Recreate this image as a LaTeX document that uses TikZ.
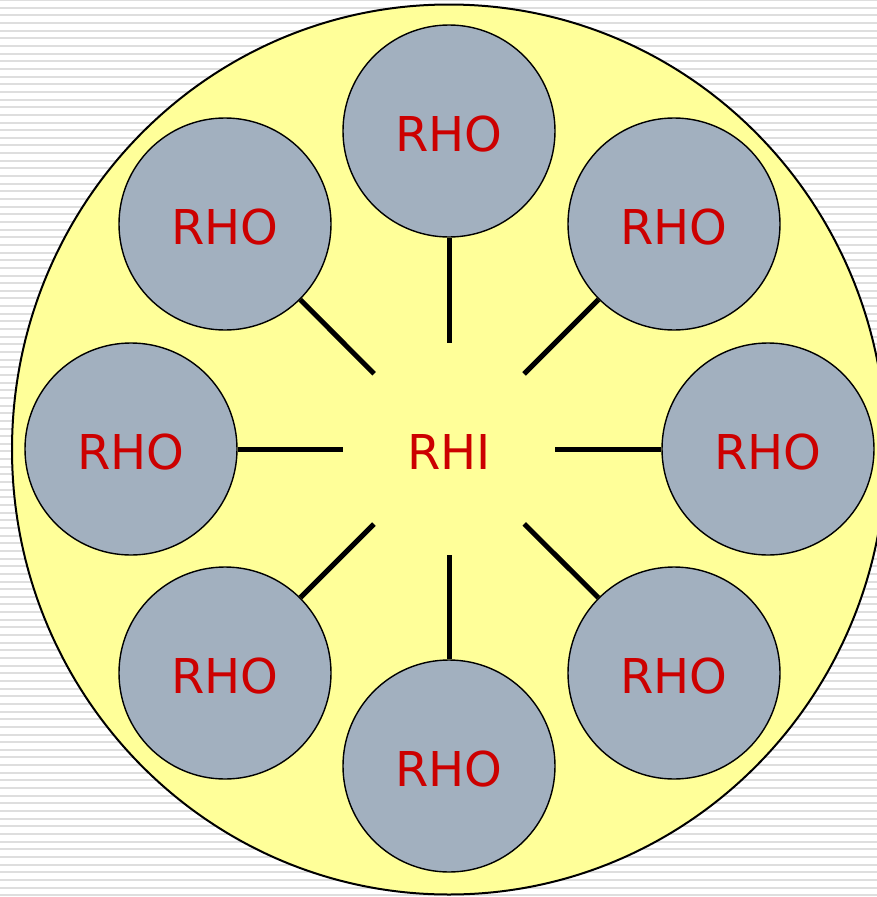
\documentclass[tikz,border=0pt]{standalone}
\usepackage{fontspec}
\setmainfont{DejaVu Sans}
\definecolor{discyellow}{RGB}{255,255,153}
\definecolor{ballgray}{RGB}{162,176,191}
\definecolor{labelred}{RGB}{204,0,0}
\definecolor{stripegray}{RGB}{222,222,222}
\tikzset{
  labeltext/.style={text=labelred, font=\fontsize{48}{48}\selectfont,
    text height=42pt, text depth=1pt},
  outer/.style={circle, draw=black, line width=1.4pt, fill=ballgray,
    minimum size=212pt, inner sep=0pt, labeltext},
  hub/.style={circle, minimum size=212pt, inner sep=0pt, labeltext},
  spoke/.style={line width=5pt}
}
\begin{document}
\begin{tikzpicture}[x=1pt, y=-1pt]
  \useasboundingbox (0,0) rectangle (877,897);
  \clip (0,0) rectangle (877,897);
  % striped backdrop
  \fill[white] (0,0) rectangle (877,897);
  \foreach \k in {0,...,117}
    \fill[stripegray] (0,{\k*7.65-0.9}) rectangle (877,{\k*7.65+1.1});
  % yellow disc
  \draw[fill=discyellow, line width=2pt] (449,449.5) ellipse [x radius=437, y radius=445];
  % centre
  \node[hub] (rhi) at (449,449) {RHI};
  % ring of outer nodes
  \node[outer] (n)  at (449,131) {RHO};
  \node[outer] (ne) at (674,224) {RHO};
  \node[outer] (e)  at (768,449) {RHO};
  \node[outer] (se) at (674,673) {RHO};
  \node[outer] (s)  at (449,766) {RHO};
  \node[outer] (sw) at (225,673) {RHO};
  \node[outer] (w)  at (131,449) {RHO};
  \node[outer] (nw) at (225,224) {RHO};
  % spokes
  \foreach \t in {n,ne,e,se,s,sw,w,nw}
    \draw[spoke] (rhi) -- (\t);
\end{tikzpicture}
\end{document}
